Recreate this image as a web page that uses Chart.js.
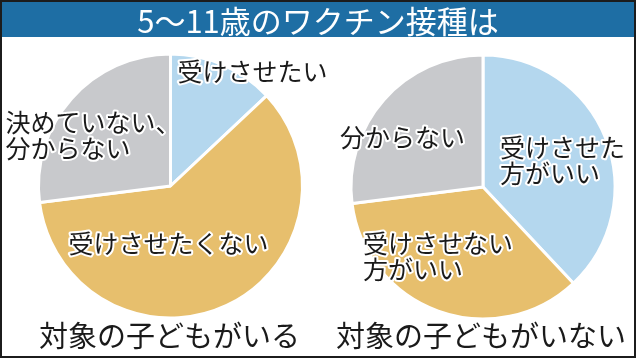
<!DOCTYPE html>
<html><head><meta charset="utf-8">
<script src="https://cdn.jsdelivr.net/npm/chart.js@4/dist/chart.umd.min.js"></script>
<style>
html,body{margin:0;padding:0;background:#fff;}
#wrap{position:relative;width:640px;height:361px;overflow:hidden;background:#fff;font-family:"Noto Sans CJK JP","Noto Sans",sans-serif;}
#frame{position:absolute;left:0;top:0;width:632px;height:354px;border:2px solid #1c1c1c;pointer-events:none;z-index:5;}
#title{position:absolute;left:2px;top:2px;width:632px;height:35px;background:#1e6ea4;color:#fff;font-size:31px;line-height:35px;text-align:center;z-index:4;}
canvas{position:absolute;left:0;top:0;}
.cap{position:absolute;top:313px;font-size:29px;line-height:42px;color:#1a1a1a;white-space:nowrap;z-index:3;}
</style></head>
<body><div id="wrap">
<div id="frame"></div>
<div id="title"></div>
<canvas id="c1" width="640" height="361"></canvas>
<canvas id="c2" width="640" height="361"></canvas>
<div class="cap" id="cap1" style="left:39px"></div>
<div class="cap" id="cap2" style="left:336px"></div>
</div>
<script>
const titleText = '5～11歳のワクチン接種は';
const groups = ['対象の子どもがいる', '対象の子どもがいない'];
const labelsA = ['受けさせたい', '受けさせたくない', '決めていない、\n分からない'];
const valuesA = [13, 60, 27];
const labelsB = ['受けさせた\n方がいい', '受けさせない\n方がいい', '分からない'];
const valuesB = [38, 35, 27];

const sliceColors = ['#b4d7ee', '#e7bf6d', '#c8c9cc'];

document.getElementById('title').textContent = titleText;
document.getElementById('cap1').textContent = groups[0];
document.getElementById('cap2').textContent = groups[1];

const sliceLabels = {
  id: 'sliceLabels',
  afterDatasetsDraw(chart, args, opts) {
    const ctx = chart.ctx;
    const meta = chart.getDatasetMeta(0);
    const lbls = chart.data.labels;
    ctx.save();
    ctx.font = opts.size + 'px "Noto Sans CJK JP", sans-serif';
    ctx.textAlign = 'left';
    ctx.textBaseline = 'middle';
    ctx.lineJoin = 'round';
    meta.data.forEach((arc, i) => {
      const off = opts.offsets[i];
      const lines = String(lbls[i]).split('\n');
      lines.forEach((ln, k) => {
        const x = arc.x + off[0];
        const y = arc.y + off[1] + k * opts.lineHeight;
        ctx.strokeStyle = '#ffffff';
        ctx.lineWidth = 4;
        ctx.strokeText(ln, x, y);
        ctx.fillStyle = '#1a1a1a';
        ctx.fillText(ln, x, y);
      });
    });
    ctx.restore();
  }
};

function makePie(id, labels, values, padding, offsets) {
  return new Chart(document.getElementById(id), {
    type: 'pie',
    data: {
      labels: labels,
      datasets: [{
        data: values,
        backgroundColor: sliceColors,
        borderColor: '#ffffff',
        borderWidth: 3,
        radius: 132
      }]
    },
    options: {
      responsive: false,
      animation: false,
      layout: { padding: padding },
      plugins: {
        legend: { display: false },
        tooltip: { enabled: false },
        sliceLabels: { size: 25, lineHeight: 26, offsets: offsets }
      }
    },
    plugins: [sliceLabels]
  });
}

makePie('c1', labelsA, valuesA,
  { left: 30, right: 329, top: 50, bottom: 39 },
  [[7, -115], [-102, 57], [-165, -64]]);
makePie('c2', labelsB, valuesB,
  { left: 343, right: 17, top: 51, bottom: 38 },
  [[17, -40], [-120, 56], [-143, -50]]);
</script>
</body></html>
